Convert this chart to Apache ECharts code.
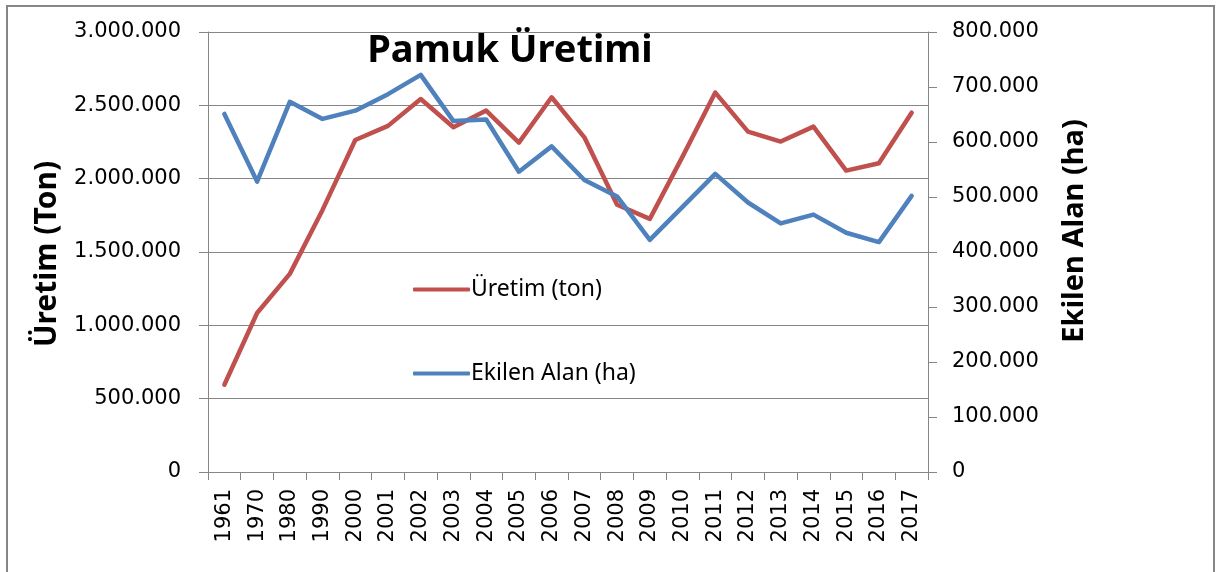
<!DOCTYPE html>
<html>
<head>
<meta charset="utf-8">
<script src="https://cdn.jsdelivr.net/npm/echarts@6/dist/echarts.min.js"></script>
<style>
html,body{margin:0;padding:0;background:#fff;}
#c{width:1217px;height:572px;}
</style>
</head>
<body>
<div id="c"></div>
<script>
const years = ['1961','1970','1980','1990','2000','2001','2002','2003','2004','2005','2006','2007','2008','2009','2010','2011','2012','2013','2014','2015','2016','2017'];
const production = [595000, 1084000, 1351000, 1787000, 2264000, 2360000, 2543000, 2351000, 2464000, 2246000, 2555000, 2282000, 1822000, 1726000, 2150000, 2587000, 2321000, 2253000, 2355000, 2055000, 2105000, 2450000];
const area = [651000, 528000, 673000, 642000, 657000, 687000, 722000, 638000, 641000, 546000, 592000, 531000, 501000, 422000, 482000, 542000, 490000, 452000, 468000, 435000, 418000, 502000];
const titleText = 'Pamuk Üretimi';
const leftName = 'Üretim (Ton)';
const rightName = 'Ekilen Alan (ha)';
const prodName = 'Üretim (ton)';
const areaName = 'Ekilen Alan (ha)';

function fmt(v){ return String(v).replace(/\B(?=(\d{3})+(?!\d))/g, '.'); }

const gray = '#868686';
const chart = echarts.init(document.getElementById('c'), null, {renderer:'canvas'});
chart.setOption({
  backgroundColor:'#fff',
  animation:false,
  title:{
    text:titleText, left:505, top:27, textAlign:'center',
    textStyle:{fontFamily:'Noto Sans', fontWeight:'bold', fontSize:38, color:'#000'}
  },
  legend:[
    {data:[prodName], left:408, top:273, orient:'vertical', icon:'roundRect', itemWidth:57, itemHeight:4, itemGap:0,
     textStyle:{fontFamily:'Noto Sans', fontSize:23, color:'#000', padding:[0,0,0,-4]}},
    {data:[areaName], left:408, top:357, orient:'vertical', icon:'roundRect', itemWidth:57, itemHeight:4, itemGap:0,
     textStyle:{fontFamily:'Noto Sans', fontSize:23, color:'#000', padding:[0,0,0,-4]}}
  ],
  graphic:[
    {type:'rect', shape:{x:7,y:6,width:1207,height:600}, style:{fill:'none', stroke:gray, lineWidth:2}, silent:true, z:-1},
    {type:'text', x:47, y:254, rotation:Math.PI/2, silent:true,
     style:{text:leftName, fontFamily:'Noto Sans', fontWeight:'bold', fontSize:30, fill:'#000', align:'center', verticalAlign:'middle'}},
    {type:'text', x:1075, y:231, rotation:Math.PI/2, silent:true,
     style:{text:rightName, fontFamily:'Noto Sans', fontWeight:'bold', fontSize:29, fill:'#000', align:'center', verticalAlign:'middle'}}
  ],
  grid:{left:208, right:289, top:32, bottom:100, containLabel:false},
  xAxis:{
    type:'category', data:years, boundaryGap:true,
    axisLine:{show:true, lineStyle:{color:gray, width:1}},
    axisTick:{show:true, length:8, lineStyle:{color:gray}},
    axisLabel:{rotate:90, interval:0, margin:17, fontFamily:'DejaVu Sans', fontSize:21, color:'#000'}
  },
  yAxis:[
    {type:'value', min:0, max:3000000, interval:500000, position:'left',
     axisLine:{show:true, lineStyle:{color:gray}},
     axisTick:{show:true, length:9, lineStyle:{color:gray}},
     splitLine:{show:true, lineStyle:{color:gray, width:1}},
     axisLabel:{formatter:fmt, margin:27, fontFamily:'DejaVu Sans', fontSize:21, color:'#000'}},
    {type:'value', min:0, max:800000, interval:100000, position:'right',
     axisLine:{show:true, lineStyle:{color:gray}},
     axisTick:{show:true, length:9, lineStyle:{color:gray}},
     splitLine:{show:false},
     axisLabel:{formatter:fmt, margin:24, fontFamily:'DejaVu Sans', fontSize:21, color:'#000'}}
  ],
  series:[
    {name:prodName, type:'line', yAxisIndex:0, data:production, symbol:'none',
     color:'#C0504D', lineStyle:{width:4.5, color:'#C0504D', cap:'round', join:'round'}},
    {name:areaName, type:'line', yAxisIndex:1, data:area, symbol:'none',
     color:'#4F81BD', lineStyle:{width:4.5, color:'#4F81BD', cap:'round', join:'round'}}
  ]
});
</script>
</body>
</html>
